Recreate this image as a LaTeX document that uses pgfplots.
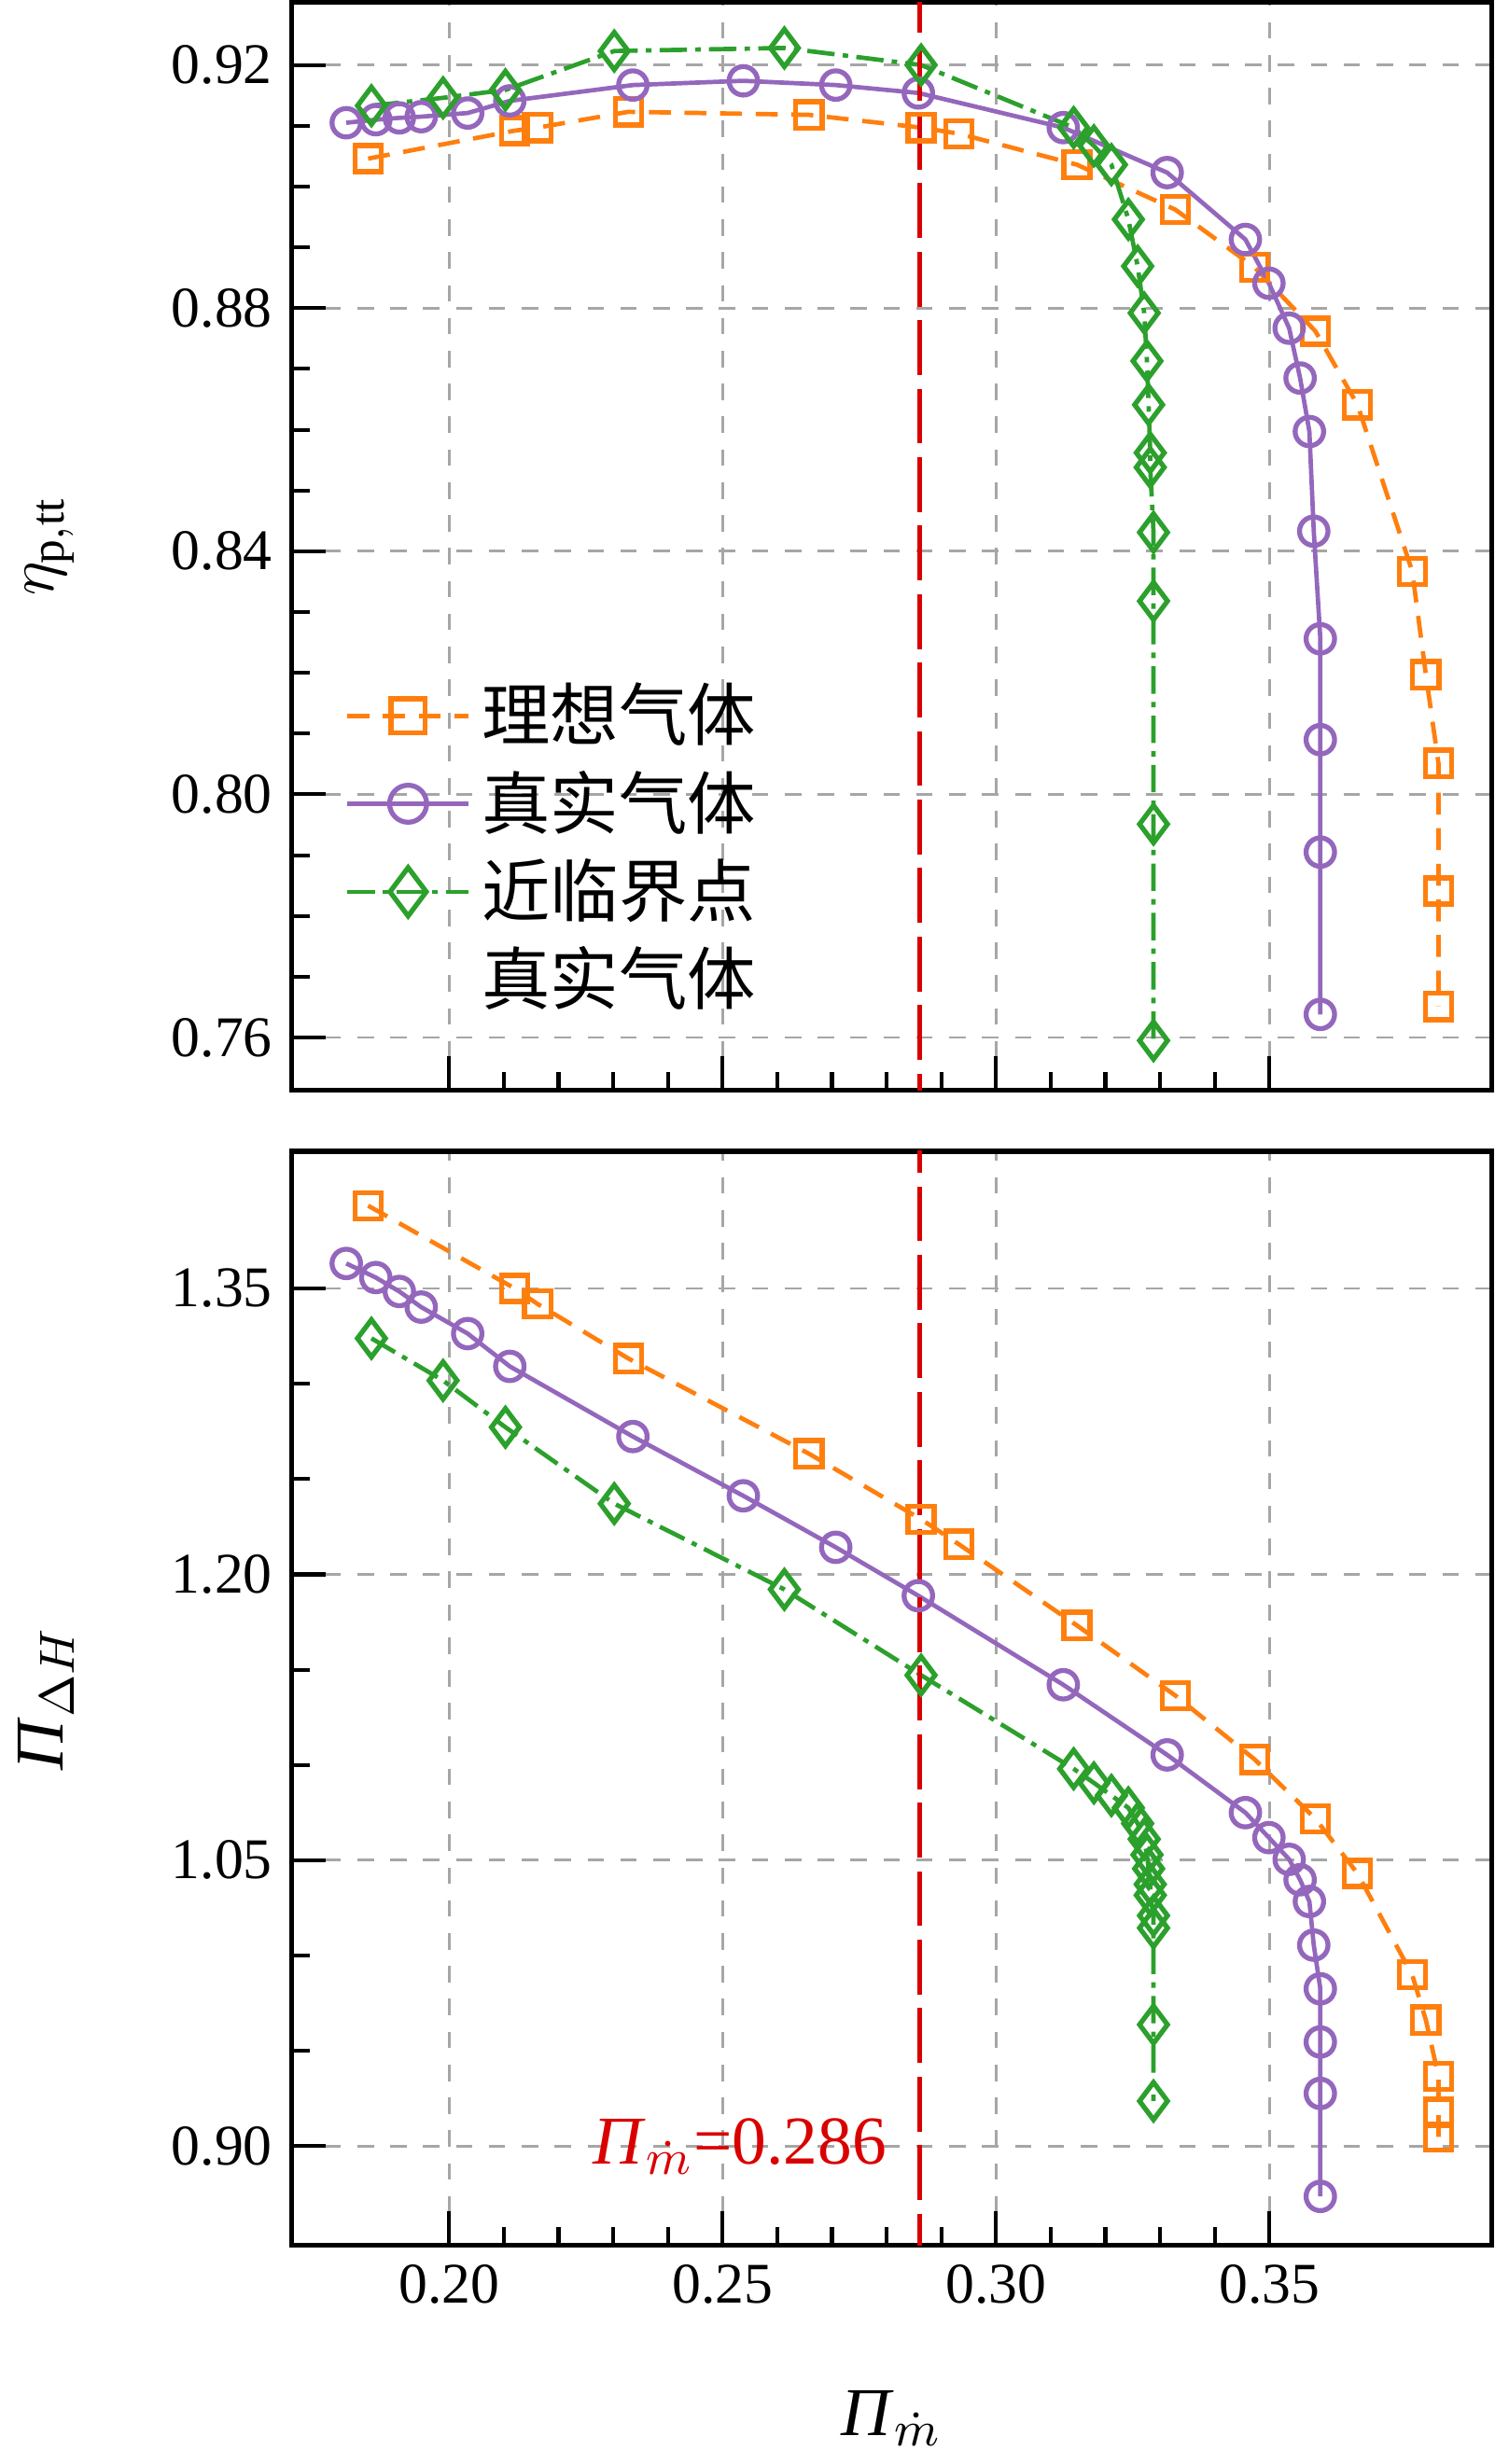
\documentclass[border=0pt]{standalone}
\usepackage{pgfplots}
\pgfplotsset{compat=1.18}
\usepackage{fontspec}
\setmainfont{Liberation Serif}
\newfontfamily\cjk{Noto Sans CJK SC}
\definecolor{cor}{HTML}{FF7F0E}
\definecolor{cpu}{HTML}{9467BD}
\definecolor{cgr}{HTML}{2CA02C}
\begin{document}
\fontsize{10}{12}\selectfont
\begin{tikzpicture}
\pgfplotsset{
 every axis/.style={scale only axis,width=7.7cm,
  xmin=0.1712,xmax=0.3907,
  xtick={0.20,0.25,0.30,0.35},minor x tick num=4,
  tick align=inside,major tick length=0.22cm,minor tick length=0.12cm,
  xtick pos=left,ytick pos=left,
  grid=major,major grid style={gray!70,dashed,line width=0.5pt},
  axis line style={line width=0.9pt},
  tick style={black,line width=0.7pt},
  /pgf/number format/assume math mode=true,
  /pgf/number format/.cd,fixed,precision=2,zerofill,
  /tikz/.cd,
  tick label style={font=\fontsize{10.5}{12}\selectfont},
  label style={font=\fontsize{12.5}{14}\selectfont},
 },
 oo/.style={cor,line width=0.8pt,dash pattern=on 4pt off 2.5pt,mark=square,mark size=2.4pt,mark options={solid,line width=0.9pt}},
 pp/.style={cpu,solid,line width=0.8pt,mark=o,mark size=2.6pt,mark options={solid,line width=0.9pt}},
 gg/.style={cgr,line width=0.8pt,dash pattern=on 5pt off 1.5pt on 1pt off 1.5pt,mark=diamond,mark size=3.4pt,mark options={solid,line width=0.9pt}},
}
\begin{axis}[name=top,at={(0,7.41cm)},height=6.98cm,
 ymin=0.7513,ymax=0.9303,ytick={0.76,0.80,0.84,0.88,0.92},minor y tick num=3,
 xticklabels={},
 ylabel={$\eta_{\mathrm{p,tt}}$},ylabel style={at={(axis description cs:-0.165,0.5)}},
 legend style={at={(0.03,0.05)},anchor=south west,draw=none,fill=none,font=\cjk\fontsize{12.5}{16}\selectfont,row sep=0pt},
 legend image post style={scale=1.3},
 legend cell align=left]
\addplot[oo] coordinates {(0.1852,0.9046)(0.2120,0.9092)(0.2162,0.9097)(0.2328,0.9123)(0.2658,0.9118)(0.2863,0.9097)(0.2932,0.9087)(0.3148,0.9036)(0.3328,0.8962)(0.3473,0.8867)(0.3584,0.8762)(0.3661,0.8641)(0.3761,0.8367)(0.3786,0.8197)(0.3809,0.8051)(0.3809,0.7841)(0.3809,0.7651)};
\addlegendentry{理想气体}
\addplot[pp] coordinates {(0.1812,0.9105)(0.1866,0.9110)(0.1909,0.9113)(0.1949,0.9115)(0.2034,0.9121)(0.2111,0.9141)(0.2336,0.9167)(0.2538,0.9174)(0.2707,0.9167)(0.2858,0.9154)(0.3123,0.9097)(0.3313,0.9023)(0.3456,0.8913)(0.3499,0.8841)(0.3536,0.8767)(0.3556,0.8685)(0.3573,0.8597)(0.3581,0.8433)(0.3593,0.8256)(0.3593,0.8090)(0.3593,0.7905)(0.3593,0.7638)};
\addlegendentry{真实气体}
\addplot[gg] coordinates {(0.1858,0.9133)(0.1989,0.9146)(0.2103,0.9159)(0.2302,0.9223)(0.2613,0.9228)(0.2863,0.9200)(0.3142,0.9097)(0.3179,0.9067)(0.3211,0.9036)(0.3242,0.8946)(0.3259,0.8869)(0.3271,0.8792)(0.3276,0.8713)(0.3279,0.8641)(0.3282,0.8562)(0.3282,0.8538)(0.3288,0.8431)(0.3288,0.8318)(0.3288,0.7951)(0.3288,0.7595)};
\addlegendentry{近临界点}
\addlegendimage{empty legend}
\addlegendentry{真实气体}
\addplot[red!85!black,line width=0.8pt,dash pattern=on 10pt off 2.5pt] coordinates {(0.286,0.70)(0.286,0.95)};
\end{axis}
\begin{axis}[name=bot,at={(0,0)},height=7.02cm,
 ymin=0.848,ymax=1.422,ytick={0.90,1.05,1.20,1.35},minor y tick num=2,
 ylabel={\textit{Π}$_{\Delta H}$},ylabel style={at={(axis description cs:-0.165,0.5)}},
 xlabel={\textit{Π}$_{\dot m}$},xlabel style={at={(axis description cs:0.5,-0.115)}}]
\addplot[oo] coordinates {(0.1852,1.3934)(0.2120,1.3500)(0.2162,1.3418)(0.2328,1.3132)(0.2658,1.2633)(0.2863,1.2289)(0.2932,1.2158)(0.3148,1.1732)(0.3328,1.1364)(0.3473,1.1029)(0.3584,1.0718)(0.3661,1.0431)(0.3761,0.9899)(0.3786,0.9662)(0.3809,0.9367)(0.3809,0.9178)(0.3809,0.9049)};
\addplot[pp] coordinates {(0.1812,1.3631)(0.1866,1.3557)(0.1909,1.3484)(0.1949,1.3402)(0.2034,1.3263)(0.2111,1.3091)(0.2336,1.2723)(0.2538,1.2412)(0.2707,1.2142)(0.2858,1.1888)(0.3123,1.1421)(0.3313,1.1053)(0.3456,1.0750)(0.3499,1.0619)(0.3536,1.0505)(0.3556,1.0398)(0.3573,1.0284)(0.3581,1.0055)(0.3593,0.9826)(0.3593,0.9547)(0.3593,0.9277)(0.3593,0.8737)};
\addplot[gg] coordinates {(0.1858,1.3238)(0.1989,1.3017)(0.2103,1.2772)(0.2302,1.2371)(0.2613,1.1921)(0.2863,1.1471)(0.3142,1.0980)(0.3179,1.0906)(0.3211,1.0840)(0.3242,1.0775)(0.3259,1.0693)(0.3271,1.0611)(0.3276,1.0529)(0.3279,1.0456)(0.3282,1.0374)(0.3282,1.0317)(0.3288,1.0210)(0.3288,1.0145)(0.3288,0.9638)(0.3288,0.9237)};
\addplot[red!85!black,line width=0.8pt,dash pattern=on 10pt off 2.5pt] coordinates {(0.286,0.80)(0.286,1.50)};
\node[red!85!black,anchor=east,font=\fontsize{12.5}{14}\selectfont] at (axis cs:0.2835,0.900) {\textit{Π}$_{\dot m}$=0.286};
\end{axis}
\end{tikzpicture}
\end{document}
